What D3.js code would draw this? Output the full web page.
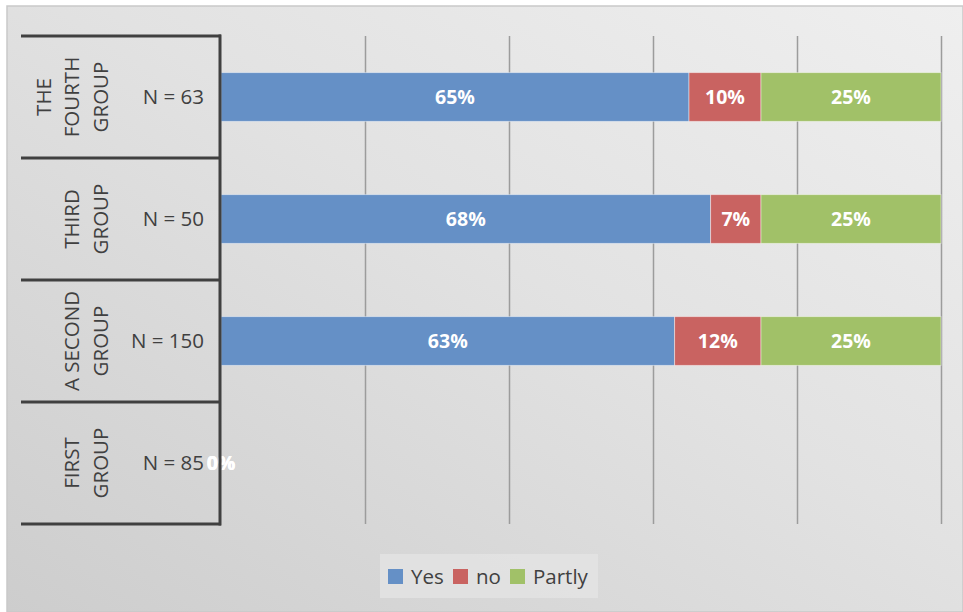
<!DOCTYPE html>
<html>
<head>
<meta charset="utf-8">
<script src="https://cdn.jsdelivr.net/npm/d3@7"></script>
<style>
  body { margin: 0; background: #fff; }
  svg { display: block; font-family: "Open Sans", sans-serif; }
</style>
</head>
<body>
<div id="chart"></div>
<script>
// data
const groups = ["THE FOURTH GROUP", "THIRD GROUP", "A SECOND GROUP", "FIRST GROUP"];
const groupLines = [["THE", "FOURTH", "GROUP"], ["THIRD", "GROUP"], ["A SECOND", "GROUP"], ["FIRST", "GROUP"]];
const sizes = ["N = 63", "N = 50", "N = 150", "N = 85"];
const series = ["Yes", "no", "Partly"];
const yesValues = [65, 68, 63, 0];
const noValues = [10, 7, 12, 0];
const partlyValues = [25, 25, 25, 0];
const colors = ["#6590c6", "#c96361", "#a1c168"];

const width = 963, height = 612;
const plot = {left: 221, right: 941, top: 36, bottom: 524};

const svg = d3.select("#chart").append("svg")
    .attr("width", width)
    .attr("height", height);

// background gradient
const defs = svg.append("defs");
const grad = defs.append("linearGradient")
    .attr("id", "bg")
    .attr("x1", "100%").attr("y1", "0%")
    .attr("x2", "0%").attr("y2", "100%");
grad.append("stop").attr("offset", "0%").attr("stop-color", "#efefef");
grad.append("stop").attr("offset", "45%").attr("stop-color", "#e2e2e2");
grad.append("stop").attr("offset", "100%").attr("stop-color", "#cdcdcd");

svg.append("rect")
    .attr("x", 7).attr("y", 6)
    .attr("width", width - 7).attr("height", height - 6)
    .attr("fill", "url(#bg)")
    .attr("stroke", "#c9c9c9")
    .attr("stroke-width", 1.5);

// scales
const x = d3.scaleLinear()
    .domain([0, 100])
    .range([plot.left, plot.right]);

const y = d3.scaleBand()
    .domain(groups)
    .range([plot.top, plot.bottom])
    .paddingInner(0.6)
    .paddingOuter(0.3);

// gridlines
svg.append("g")
    .attr("class", "grid")
    .attr("transform", `translate(0, ${plot.bottom})`)
    .call(d3.axisBottom(x)
        .tickValues([20, 40, 60, 80, 100])
        .tickSize(-(plot.bottom - plot.top))
        .tickFormat(""))
    .call(g => g.select(".domain").remove())
    .call(g => g.selectAll(".tick line")
        .attr("stroke", "#9c9c9c")
        .attr("stroke-width", 1.5));

// stacked bars
const rows = groups.map((g, i) => ({group: g, Yes: yesValues[i], no: noValues[i], Partly: partlyValues[i]}));
const stacked = d3.stack().keys(series)(rows);

const layer = svg.append("g").selectAll("g")
    .data(stacked)
    .join("g")
    .attr("fill", (d, i) => colors[i]);

layer.selectAll("rect")
    .data(d => d)
    .join("rect")
    .attr("x", d => x(d[0]))
    .attr("y", d => y(d.data.group))
    .attr("width", d => x(d[1]) - x(d[0]))
    .attr("height", y.bandwidth())
    .attr("stroke", "rgba(255,255,255,0.45)")
    .attr("stroke-width", 1);

// data labels
layer.selectAll("text")
    .data(d => d)
    .join("text")
    .attr("x", d => (x(d[0]) + x(d[1])) / 2)
    .attr("y", d => y(d.data.group) + y.bandwidth() / 2)
    .attr("dy", "0.36em")
    .attr("text-anchor", "middle")
    .attr("fill", "#fff")
    .attr("font-weight", "bold")
    .attr("font-size", 19.5)
    .text(d => (d[1] - d[0]) + "%");

// category axis (two levels)
const axisColor = "#404040";
const step = y.step();
const bounds = groups.map(g => y(g) - y.paddingInner() * step / 2);
bounds.push(plot.bottom);

const cat = svg.append("g");
cat.selectAll("line.sep")
    .data(bounds)
    .join("line")
    .attr("class", "sep")
    .attr("x1", 21).attr("x2", plot.left)
    .attr("y1", d => d).attr("y2", d => d)
    .attr("stroke", axisColor)
    .attr("stroke-width", 3);

cat.append("line")
    .attr("x1", plot.left - 1).attr("x2", plot.left - 1)
    .attr("y1", plot.top - 1.5).attr("y2", plot.bottom + 1.5)
    .attr("stroke", axisColor)
    .attr("stroke-width", 3);

cat.selectAll("text.n")
    .data(groups)
    .join("text")
    .attr("class", "n")
    .attr("x", 204)
    .attr("y", d => y(d) + y.bandwidth() / 2)
    .attr("dy", "0.36em")
    .attr("text-anchor", "end")
    .attr("fill", axisColor)
    .attr("font-size", 20.5)
    .text((d, i) => sizes[i]);

groups.forEach((g, i) => {
    const cy = y(g) + y.bandwidth() / 2;
    const lines = groupLines[i];
    const t = cat.append("text")
        .attr("transform", `translate(0, ${cy}) rotate(-90)`)
        .attr("text-anchor", "middle")
        .attr("fill", axisColor)
        .attr("font-size", 20.5);
    lines.forEach((s, j) => {
        const lx = 100 - (lines.length - 1 - j) * 28.5;
        t.append("tspan")
            .attr("x", 0)
            .attr("y", lx + 7.5)
            .text(s);
    });
});

// legend
const legend = svg.append("g").attr("transform", "translate(380, 554)");
legend.append("rect")
    .attr("width", 218).attr("height", 44)
    .attr("fill", "#e3e3e3")
    .attr("opacity", 0.8);

const legendX = [8, 73, 130];
const item = legend.selectAll("g.item")
    .data(series)
    .join("g")
    .attr("class", "item")
    .attr("transform", (d, i) => `translate(${legendX[i]}, 0)`);

item.append("rect")
    .attr("y", 15)
    .attr("width", 15).attr("height", 15)
    .attr("fill", (d, i) => colors[i]);

item.append("text")
    .attr("x", 23)
    .attr("y", 23)
    .attr("dy", "0.36em")
    .attr("fill", axisColor)
    .attr("font-size", 20.5)
    .text(d => d);
</script>
</body>
</html>
